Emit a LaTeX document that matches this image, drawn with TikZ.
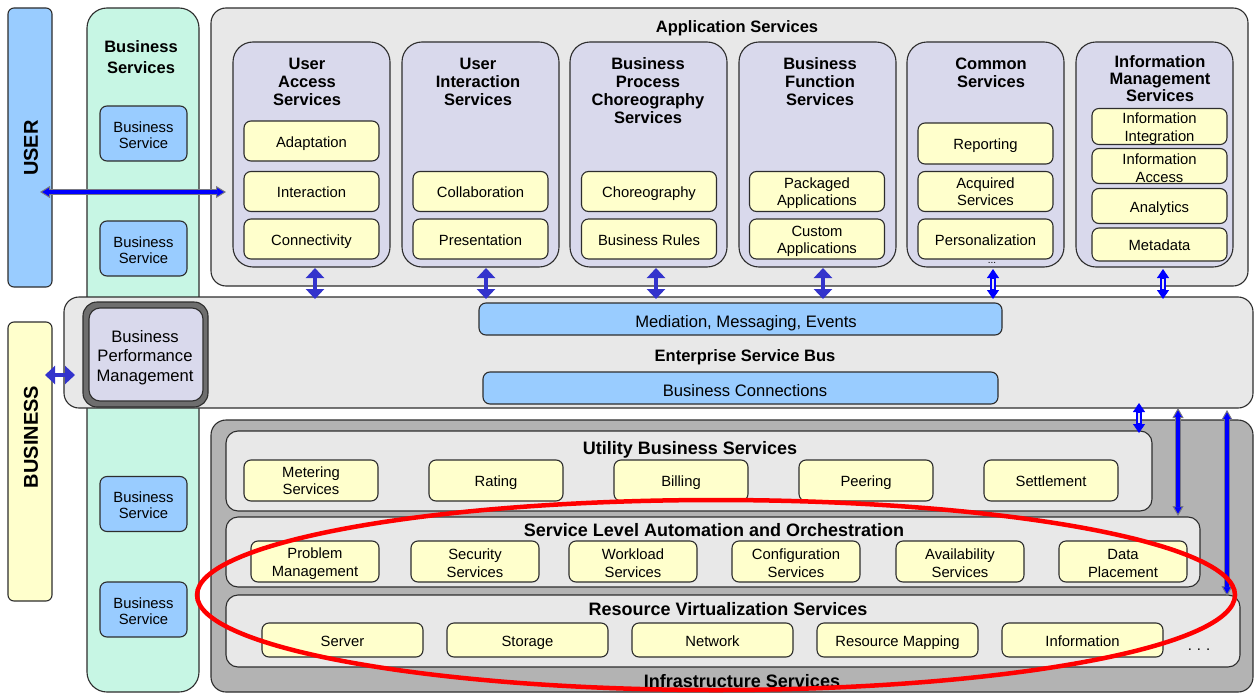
\documentclass[tikz,border=0pt]{standalone}
\usepackage{fontspec}
\setmainfont{Liberation Sans}
\usetikzlibrary{arrows.meta}

\definecolor{edge}{RGB}{45,45,45}
\definecolor{skyfill}{RGB}{153,204,255}
\definecolor{mintfill}{RGB}{199,246,228}
\definecolor{panelfill}{RGB}{232,232,232}
\definecolor{lavfill}{RGB}{217,217,236}
\definecolor{creamfill}{RGB}{255,255,204}
\definecolor{infrafill}{RGB}{179,179,179}
\definecolor{ringgray}{RGB}{110,110,110}
\definecolor{violetarrow}{RGB}{51,51,204}
\definecolor{linkblue}{RGB}{0,0,255}
\definecolor{tipgray}{RGB}{120,120,130}

\newcommand\fBody{\fontsize{14.8}{17}\selectfont}
\newcommand\fHead{\bfseries\fontsize{16.5}{18}\selectfont}
\newcommand\fSec{\bfseries\fontsize{18}{20}\selectfont}
\newcommand\fBar{\fontsize{16.6}{19.5}\selectfont}
\newcommand\fSide{\bfseries\fontsize{20}{24}\selectfont}
% taller first line, to set two-line labels a little lower in their boxes
\newcommand\tallstrut{\rule{0pt}{15pt}}

% blue link arrow with a grey rim
\newcommand\rimarrow[4]{%
  \draw[line width=#3+2pt, draw=tipgray,
    {Triangle[width=#4,length=10pt,line width=1pt,fill=linkblue]}-{Triangle[width=#4,length=10pt,line width=1pt,fill=linkblue]}]
    (#1) -- (#2);
  \draw[line width=#3, draw=linkblue, shorten <=9pt, shorten >=9pt] (#1) -- (#2);}
% blue link arrow with a hollow shaft
\newcommand\hollowarrow[2]{%
  \draw[line width=6pt, draw=linkblue,
    {Triangle[width=12pt,length=9pt,line width=1pt,fill=linkblue]}-{Triangle[width=12pt,length=9pt,line width=1pt,fill=linkblue]}]
    (#1) -- (#2);
  \draw[line width=2pt, draw=panelfill, shorten <=10pt, shorten >=10pt] (#1) -- (#2);}

\begin{document}
\begin{tikzpicture}[x=1pt,y=-1pt,
  every node/.style={inner sep=0pt, outer sep=0pt},
  frame/.style={rectangle, draw=edge, line width=1.1pt, align=center},
  skybox/.style={frame, fill=skyfill, rounded corners=7pt},
  creambox/.style={frame, fill=creamfill, rounded corners=7pt, font=\fBody},
  one/.style={text height=15.5pt, text depth=3.1pt},
  lavcol/.style={frame, fill=lavfill, rounded corners=20pt, minimum width=157pt, minimum height=225pt},
  colbox/.style={creambox, minimum width=135pt, minimum height=40pt},
  imbox/.style={creambox, minimum width=135pt, minimum height=35pt, font=\fontsize{14.8}{18}\selectfont},
  coltitle/.style={font=\fHead, align=center, anchor=north},
  panelbox/.style={frame, fill=panelfill, rounded corners=15pt},
  band/.style={frame, fill=panelfill, rounded corners=12pt},
  ubox/.style={creambox, minimum width=134pt, minimum height=41pt},
  sbox/.style={creambox, minimum width=128pt, minimum height=41pt, font=\fontsize{14.8}{18}\selectfont},
  rbox/.style={creambox, minimum width=161pt, minimum height=34pt},
  bsbox/.style={skybox, minimum width=87pt, minimum height=55pt},
  bstext/.style={font=\fontsize{14.8}{16}\selectfont, align=center},
  bartext/.style={font=\fBar, text height=21pt, text depth=3.4pt},
  sectitle/.style={font=\fSec, anchor=base},
  fatarrow/.style={draw=violetarrow, line width=4pt,
    {Triangle[width=18pt,length=10pt]}-{Triangle[width=18pt,length=10pt]}},
]
\useasboundingbox (0,0) rectangle (1255,693);
\fill[white] (0,0) rectangle (1255,693);

% ---------- left side ----------
\node[frame, fill=mintfill, rounded corners=20pt, minimum width=112pt, minimum height=684pt] (bscol) at (143,350) {};
\node[font=\bfseries\fontsize{16.5}{21}\selectfont, align=center, anchor=north] (bstitle) at (141,41) {Business\\Services};
\node[bsbox] (bs1) at (143.5,133.5) {};
\node[bsbox] (bs2) at (143.5,248.5) {};
\node[bsbox] (bs3) at (143.5,504) {};
\node[bsbox] (bs4) at (143.5,609.5) {};
\foreach \b in {bs1,bs2,bs3,bs4}
  \node[bstext] (\b-txt) at ([yshift=-1.5pt]\b.center) {Business\\Service};

\node[frame, fill=skyfill, rounded corners=6pt, minimum width=44pt, minimum height=279pt] (user) at (30,147.5) {};
\node[rotate=90, font=\fSide] (usertxt) at (31,148) {USER};
\node[frame, fill=creamfill, rounded corners=6pt, minimum width=44pt, minimum height=279pt] (business) at (30,461.5) {};
\node[rotate=90, font=\fSide] (businesstxt) at (31,437) {BUSINESS};

% ---------- application services ----------
\node[panelbox, minimum width=1037pt, minimum height=278pt] (app) at (729.5,147) {};
\node[font=\fHead, anchor=base] (apptitle) at (737,33) {Application Services};

\node[lavcol] (uacol) at (311.5,154.5) {};
\node[lavcol] (uicol) at (480.5,154.5) {};
\node[lavcol] (bpcol) at (648.5,154.5) {};
\node[lavcol] (bfcol) at (817.5,154.5) {};
\node[lavcol] (cscol) at (985.5,154.5) {};
\node[lavcol] (imcol) at (1154.5,154.5) {};

\node[coltitle] (uatitle) at (307,58) {User\\Access\\Services};
\node[coltitle] (uititle) at (478,58) {User\\Interaction\\Services};
\node[coltitle] (bptitle) at (648,58) {Business\\Process\\Choreography\\Services};
\node[coltitle] (bftitle) at (820,58) {Business\\Function\\Services};
\node[coltitle] (cstitle) at (991,58) {Common\\Services};
\node[coltitle, font=\bfseries\fontsize{16.5}{17}\selectfont] (imtitle) at (1160,56) {Information\\Management\\Services};

\node[colbox, one] (adapt) at (311.5,141) {Adaptation};
\node[colbox, one] (interact) at (311.5,191.5) {Interaction};
\node[colbox, one] (connect) at (311.5,239) {Connectivity};
\node[colbox, one] (collab) at (480.5,191.5) {Collaboration};
\node[colbox, one] (present) at (480.5,239) {Presentation};
\node[colbox, one] (choreo) at (649,191.5) {Choreography};
\node[colbox, one] (rules) at (649,239) {Business Rules};
\node[colbox] (packaged) at (817,191.5) {\tallstrut Packaged\\Applications};
\node[colbox] (custom) at (817,239) {\tallstrut Custom\\Applications};
\node[colbox, one, minimum height=41pt] (report) at (985.5,143.5) {Reporting};
\node[colbox] (acquired) at (985.5,191.5) {Acquired\\Services};
\node[colbox, one] (personal) at (985.5,239) {Personalization};
\node[imbox] (infoint) at (1159.5,126.5) {\tallstrut Information\\Integration};
\node[imbox] (infoacc) at (1159.5,166) {\tallstrut Information\\Access};
\node[imbox, one] (analytics) at (1159.5,206) {Analytics};
\node[imbox, one, minimum height=33pt] (metadata) at (1159.5,244.5) {Metadata};
\node[font=\fontsize{10}{12}\selectfont, anchor=base] (csmore) at (992,263) {...};

% ---------- enterprise service bus ----------
\node[panelbox, minimum width=1189pt, minimum height=111pt] (esb) at (658.5,352.5) {};
\node[frame, fill=ringgray, rounded corners=14pt, minimum width=125pt, minimum height=105pt] (bpmring) at (145.5,354.5) {};
\node[frame, fill=lavfill, rounded corners=11pt, minimum width=114pt, minimum height=93pt] (bpm) at (146,354.5) {};
\node[font=\fBar, align=center] (bpmtxt) at (145,357.5) {Business\\Performance\\Management};
\node[skybox, minimum width=523pt, minimum height=32pt] (mediation) at (740.5,319) {};
\node[bartext] (mediationtxt) at (746,319) {Mediation, Messaging, Events};
\node[font=\fHead, anchor=base] (esbtitle) at (745,361) {Enterprise Service Bus};
\node[skybox, minimum width=515pt, minimum height=32pt] (bconn) at (740.5,388) {};
\node[bartext] (bconntxt) at (745,388) {Business Connections};

% ---------- infrastructure services ----------
\node[frame, fill=infrafill, rounded corners=15pt, minimum width=1042pt, minimum height=272pt] (infra) at (732,556) {};
\node[sectitle] (infratitle) at (742,687.5) {Infrastructure Services};

\node[band, minimum width=926pt, minimum height=80pt] (ubs) at (689,471) {};
\node[sectitle] (ubstitle) at (690,454.5) {Utility Business Services};
\node[ubox] (metering) at (311,480.5) {Metering\\Services};
\node[ubox, one] (rating) at (496,480.5) {Rating};
\node[ubox, one] (billing) at (681,480.5) {Billing};
\node[ubox, one] (peering) at (866,480.5) {Peering};
\node[ubox, one] (settle) at (1051,480.5) {Settlement};

\node[band, minimum width=974pt, minimum height=70pt] (sla) at (713,552) {};
\node[sectitle] (slatitle) at (714,536.5) {Service Level Automation and Orchestration};
\node[sbox] (problem) at (315,561.5) {\tallstrut Problem\\Management};
\node[sbox] (security) at (475,561.5) {\tallstrut Security\\Services};
\node[sbox] (workload) at (633,561.5) {\tallstrut Workload\\Services};
\node[sbox] (config) at (796,561.5) {\tallstrut Configuration\\Services};
\node[sbox] (avail) at (960,561.5) {\tallstrut Availability\\Services};
\node[sbox] (placement) at (1123,561.5) {\tallstrut Data\\Placement};

\node[band, minimum width=1014pt, minimum height=72pt] (rv) at (733,631) {};
\node[sectitle] (rvtitle) at (728,615.5) {Resource Virtualization Services};
\node[rbox, one] (server) at (342.5,640) {Server};
\node[rbox, one] (storage) at (527.5,640) {Storage};
\node[rbox, one] (network) at (712.5,640) {Network};
\node[rbox, one] (mapping) at (897.5,640) {Resource Mapping};
\node[rbox, one] (information) at (1082.5,640) {Information};
\node[font=\fBody, anchor=base] (rvmore) at (1199,650) {.\,\,.\,\,.};

% ---------- connectors ----------
\coordinate (userlink-a) at (40,192);
\coordinate (userlink-b) at (226,192);
\rimarrow{userlink-a}{userlink-b}{3.5pt}{12pt}

\coordinate (bpmlink-a) at (45,375);
\coordinate (bpmlink-b) at (75,375);
\draw[fatarrow] (bpmlink-a) -- (bpmlink-b);

\foreach \n/\x in {ua/315, ui/486, bp/656, bf/823}{
  \coordinate (\n-up) at (\x,268);
  \coordinate (\n-dn) at (\x,299);
  \draw[fatarrow] (\n-up) -- (\n-dn);
}
\coordinate (cs-up) at (993,269);
\coordinate (cs-dn) at (993,299);
\hollowarrow{cs-up}{cs-dn}
\coordinate (im-up) at (1163,269);
\coordinate (im-dn) at (1163,299);
\hollowarrow{im-up}{im-dn}

\coordinate (ubs-up) at (1139,403);
\coordinate (ubs-dn) at (1139,433);
\hollowarrow{ubs-up}{ubs-dn}
\coordinate (sla-up) at (1178,408);
\coordinate (sla-dn) at (1178,516);
\rimarrow{sla-up}{sla-dn}{3.5pt}{11pt}
\coordinate (rv-up) at (1227,410);
\coordinate (rv-dn) at (1227,596);
\rimarrow{rv-up}{rv-dn}{3.5pt}{11pt}

% highlight ring round the lower layers
\draw[red, line width=4.5pt] (716,595) ellipse [x radius=519pt, y radius=95pt];

\end{tikzpicture}
\end{document}
